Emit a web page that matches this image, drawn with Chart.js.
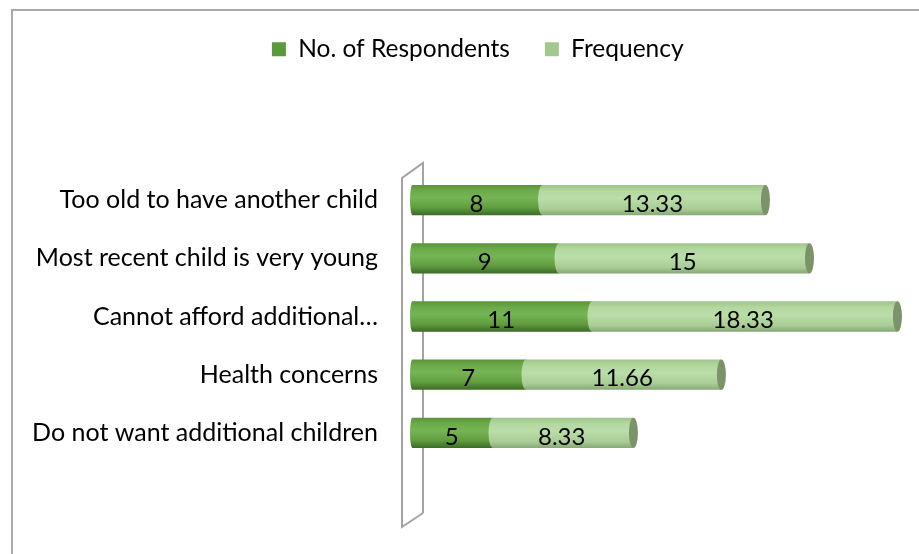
<!DOCTYPE html>
<html>
<head>
<meta charset="utf-8">
<script src="https://cdn.jsdelivr.net/npm/chart.js@4"></script>
<style>
  html, body { margin: 0; padding: 0; background: #fff; overflow: hidden; }
  #frame { position: absolute; left: 11px; top: 9px; width: 1000px; height: 700px; border: 2px solid #a9a9a9; box-sizing: border-box; }
  #wrap { position: absolute; left: 0; top: 0; width: 919px; height: 554px; }
</style>
</head>
<body>
<div id="frame"></div>
<div id="wrap"><canvas id="chart"></canvas></div>
<script>
const categories = [
    'Too old to have another child',
    'Most recent child is very young',
    'Cannot afford additional\u2026',
    'Health concerns',
    'Do not want additional children'
];
const respondents = [8, 9, 11, 7, 5];
const frequency = [13.33, 15, 18.33, 11.66, 8.33];

const FONT = 'Lato, "Open Sans", sans-serif';

// gradients for the cylinder look
const shades = [
    [[0, '#5a9339'], [0.18, '#6ba949'], [0.42, '#76b555'], [0.75, '#619d3f'], [1, '#3c6a27']],
    [[0, '#9ec689'], [0.2, '#b2d79f'], [0.45, '#bbdea9'], [0.8, '#a8cc94'], [1, '#86a873']]
];

const wallAndCylinders = {
    id: 'wallAndCylinders',
    beforeDatasetsDraw(chart) {
        const { ctx, chartArea } = chart;
        const front = chartArea.left - 8.5, back = chartArea.left + 12.5;
        ctx.save();
        ctx.strokeStyle = '#a3a3a3';
        ctx.lineWidth = 2;
        ctx.beginPath();
        ctx.moveTo(back, chartArea.bottom + 51);
        ctx.lineTo(back, chartArea.top - 8);
        ctx.lineTo(front, chartArea.top + 7);
        ctx.lineTo(front, chartArea.bottom + 65);
        ctx.lineTo(back, chartArea.bottom + 51);
        ctx.stroke();
        ctx.restore();
    },
    beforeDatasetDraw() {
        return false;
    },
    afterDatasetsDraw(chart) {
        const ctx = chart.ctx;
        const metas = chart.data.datasets.map((d, i) => chart.getDatasetMeta(i));
        const depth = 3;
        ctx.save();
        categories.forEach((c, j) => {
            metas.forEach((meta, i) => {
                const el = meta.data[j];
                const last = i === metas.length - 1;
                const h = el.height, top = el.y - h / 2, rx = 4.5;
                const left = i === 0 ? el.base + 2 : el.base;
                const right = last ? el.x + depth : el.x;
                const g = ctx.createLinearGradient(0, top, 0, top + h);
                shades[i].forEach(s => g.addColorStop(s[0], s[1]));
                ctx.fillStyle = g;
                ctx.beginPath();
                ctx.ellipse(left, el.y, i === 0 ? 2.5 : rx, h / 2, 0, Math.PI / 2, Math.PI * 1.5);
                ctx.lineTo(right, top);
                ctx.lineTo(right, top + h);
                ctx.closePath();
                ctx.fill();
                if (last) {
                    ctx.fillStyle = '#7a9368';
                    ctx.beginPath();
                    ctx.ellipse(right, el.y, rx, h / 2, 0, 0, Math.PI * 2);
                    ctx.fill();
                }
            });
            metas.forEach((meta, i) => {
                const el = meta.data[j];
                const v = chart.data.datasets[i].data[j];
                ctx.fillStyle = '#000';
                ctx.font = '24px ' + FONT;
                ctx.textAlign = 'center';
                ctx.textBaseline = 'middle';
                ctx.fillText(String(v), (el.base + el.x) / 2, el.y + 4);
            });
        });
        ctx.restore();
    }
};

// legend sits a bit right of the page centre, and a fixed height above the plot
const legendPlace = {
    id: 'legendPlace',
    beforeInit(chart) {
        const fit = chart.legend.fit;
        chart.legend.fit = function () {
            fit.bind(chart.legend)();
            this.height = 169;
        };
    },
    afterLayout(chart) {
        chart.legend.left += 25;
        chart.legend.right += 25;
    }
};

new Chart(document.getElementById('chart'), {
    type: 'bar',
    data: {
        labels: categories,
        datasets: [
            { label: 'No. of Respondents', data: respondents, backgroundColor: '#5b9a3b' },
            { label: 'Frequency', data: frequency, backgroundColor: '#a3c88e' }
        ]
    },
    options: {
        indexAxis: 'y',
        responsive: true,
        maintainAspectRatio: false,
        animation: false,
        layout: { padding: { top: 2, right: 13.5, bottom: 92, left: 0 } },
        datasets: { bar: { categoryPercentage: 1, barPercentage: 0.52 } },
        plugins: {
            legend: {
                position: 'top',
                labels: {
                    boxWidth: 14, boxHeight: 14, padding: 35,
                    color: '#000', font: { family: FONT, size: 24.5 }
                }
            },
            tooltip: { enabled: false }
        },
        scales: {
            x: { stacked: true, min: 0, max: 30, display: false },
            y: {
                stacked: true,
                grid: { display: false, drawTicks: false },
                border: { display: false },
                ticks: { color: '#000', padding: 32.5, font: { family: FONT, size: 25 } },
                afterFit(s) { s.width = 410.5; }
            }
        }
    },
    plugins: [legendPlace, wallAndCylinders]
});
</script>
</body>
</html>
